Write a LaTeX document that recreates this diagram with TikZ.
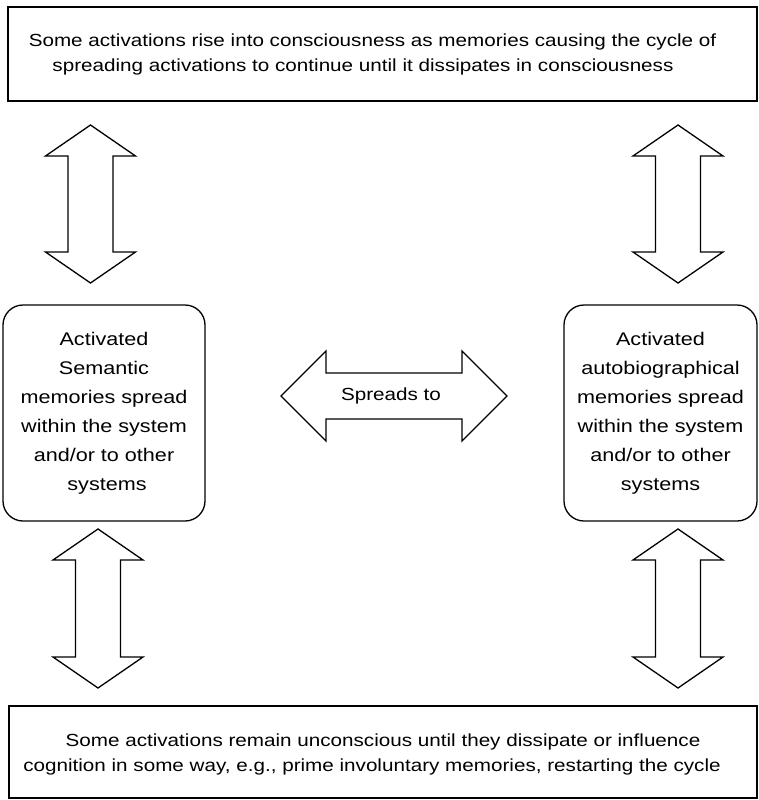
\documentclass[tikz,border=0pt]{standalone}
\usepackage{fontspec}
\setmainfont{Liberation Sans}
\newfontfamily\widesans[FakeStretch=1.18]{Liberation Sans}
\begin{document}
\begin{tikzpicture}[x=1pt,y=-1pt,
  box/.style={draw,line width=1.3pt,inner sep=0pt,align=center},
  roundbox/.style={box,rounded corners=20pt},
  blockarrow/.style={draw,line width=1.3pt,fill=white,line join=miter},
  label/.style={inner sep=0pt,align=center},
  bigtext/.style={font=\widesans\fontsize{17.5}{25}\selectfont},
  boxtext/.style={font=\widesans\fontsize{18.3}{29}\selectfont}]
\useasboundingbox (0,0) rectangle (758,800);

% frame boxes and their texts
\node[box,minimum width=749pt,minimum height=94pt] (top) at (382.5,54) {};
\node[label,bigtext] (toptext) at ([xshift=-10pt]top.center)
  {Some activations rise into consciousness as memories causing the cycle of\\
   spreading activations to continue until it dissipates in consciousness\hspace*{19pt}};
\node[box,minimum width=748pt,minimum height=92pt] (bottom) at (383,752) {};
\node[label,bigtext] (bottomtext) at ([yshift=-2pt]bottom.center)
  {Some activations remain unconscious until they dissipate or influence\\
   cognition in some way, e.g., prime involuntary memories, restarting the cycle\hspace*{22pt}};

% memory systems
\node[roundbox,boxtext,minimum width=202pt,minimum height=216pt] (sem) at (104,413)
  {Activated\\Semantic\\memories spread\\within the system\\and/or to other\\systems\hspace*{-6pt}};
\node[roundbox,boxtext,minimum width=193pt,minimum height=216pt] (auto) at (660.5,413)
  {Activated\\autobiographical\\memories spread\\within the system\\and/or to other\\systems};

% vertical two-headed block arrows: centre x, upper tip y, lower tip y
\newcommand\vdarrow[3]{%
  \draw[blockarrow] (#1,#2) -- (#1+45,#2+31) -- (#1+22.5,#2+31) -- (#1+22.5,#3-31)
    -- (#1+45,#3-31) -- (#1,#3) -- (#1-45,#3-31) -- (#1-22.5,#3-31)
    -- (#1-22.5,#2+31) -- (#1-45,#2+31) -- cycle;}
\vdarrow{90.5}{125}{283}
\vdarrow{678}{125}{283}
\vdarrow{98}{529}{688}
\vdarrow{678}{529}{688}

% horizontal two-headed block arrow between the systems
\draw[blockarrow] (281,396) -- (326,351) -- (326,373) -- (462,373) -- (462,351)
  -- (507,396) -- (462,441) -- (462,419) -- (326,419) -- (326,441) -- cycle;
\node[bigtext] (spread) at (391,396) {Spreads to};
\end{tikzpicture}
\end{document}
